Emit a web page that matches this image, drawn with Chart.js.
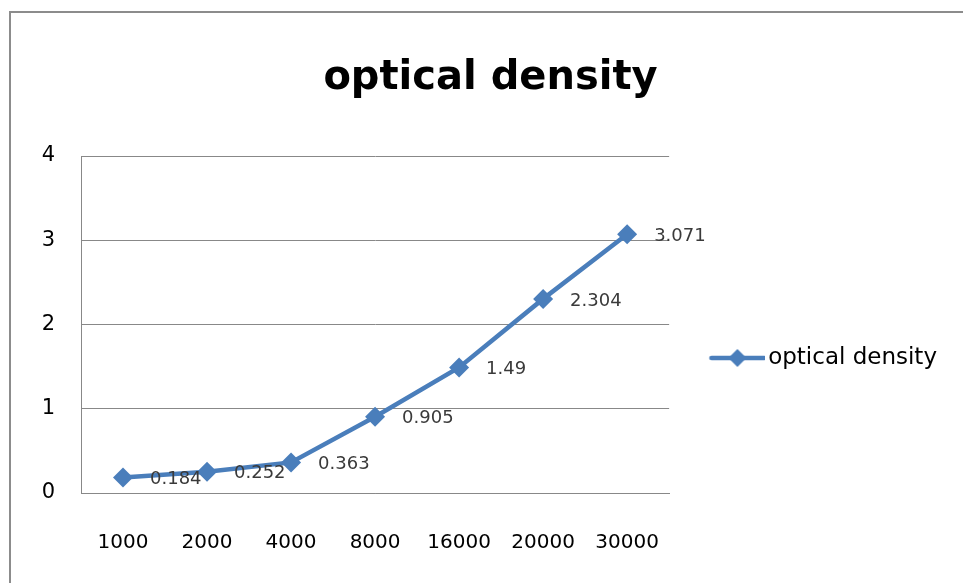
<!DOCTYPE html>
<html>
<head>
<meta charset="utf-8">
<script src="https://cdn.jsdelivr.net/npm/chart.js@4.4.1/dist/chart.umd.min.js"></script>
<style>
  html, body { margin: 0; padding: 0; background: #fff; overflow: hidden; }
  #frame { position: absolute; left: 9px; top: 11px; width: 1000px; height: 700px; border: 2px solid #8c8c8c; }
  #wrap { position: absolute; left: 0; top: 0; width: 963px; height: 583px; }
</style>
</head>
<body>
<div id="frame"></div>
<div id="wrap"><canvas id="odChart" width="963" height="583"></canvas></div>
<script>
// chart values
const categories = ['1000', '2000', '4000', '8000', '16000', '20000', '30000'];
const densityValues = [0.184, 0.252, 0.363, 0.905, 1.49, 2.304, 3.071];
const densityLabels = ['0.184', '0.252', '0.363', '0.905', '1.49', '2.304', '3.071'];
const yTicks = [0, 1, 2, 3, 4];
const seriesName = 'optical density';

const lineColor = '#4a7ebb';
const fontFamily = '"DejaVu Sans", sans-serif';

// legend symbol: line with a diamond on it
function legendSymbol() {
    const c = document.createElement('canvas');
    c.width = 81;
    c.height = 22;
    const ctx = c.getContext('2d');
    ctx.strokeStyle = lineColor;
    ctx.lineWidth = 4.5;
    ctx.lineCap = 'round';
    ctx.beginPath();
    ctx.moveTo(27, 11);
    ctx.lineTo(80, 11);
    ctx.stroke();
    ctx.fillStyle = lineColor;
    ctx.beginPath();
    ctx.moveTo(53, 2);
    ctx.lineTo(62, 11);
    ctx.lineTo(53, 20);
    ctx.lineTo(44, 11);
    ctx.closePath();
    ctx.fill();
    return c;
}
const symbol = legendSymbol();

// value labels next to each point
const valueLabels = {
    id: 'valueLabels',
    afterDatasetsDraw(chart) {
        const ctx = chart.ctx;
        const meta = chart.getDatasetMeta(0);
        ctx.save();
        ctx.font = '18px ' + fontFamily;
        ctx.fillStyle = '#3a3a3a';
        ctx.textAlign = 'left';
        ctx.textBaseline = 'middle';
        meta.data.forEach((pt, i) => {
            ctx.fillText(densityLabels[i], pt.x + 27, pt.y + 2);
        });
        ctx.restore();
    }
};

new Chart(document.getElementById('odChart'), {
    type: 'line',
    data: {
        labels: categories,
        datasets: [{
            label: seriesName,
            data: densityValues,
            borderColor: lineColor,
            backgroundColor: lineColor,
            borderWidth: 4.5,
            pointStyle: 'rectRot',
            pointRadius: 10,
            pointHoverRadius: 10,
            pointBorderWidth: 0,
            tension: 0
        }]
    },
    options: {
        responsive: false,
        animation: false,
        layout: { padding: { left: 34, right: 16, top: 0, bottom: 0 } },
        plugins: {
            title: {
                display: true,
                text: seriesName,
                color: '#000',
                font: { family: fontFamily, size: 40, weight: 'bold' },
                padding: { top: 55, bottom: 53 }
            },
            legend: {
                display: true,
                position: 'right',
                fullSize: false,
                maxWidth: 320,
                // empty title only pushes the entry down a bit
                title: { display: true, text: '', font: { size: 10 }, padding: { top: 55, bottom: 0 } },
                labels: {
                    usePointStyle: true,
                    pointStyleWidth: 63.5,
                    padding: 24,
                    color: '#000',
                    font: { family: fontFamily, size: 23 },
                    generateLabels: () => [{
                        text: seriesName,
                        fontColor: '#000',
                        pointStyle: symbol,
                        fillStyle: lineColor,
                        strokeStyle: lineColor,
                        lineWidth: 0,
                        datasetIndex: 0
                    }]
                }
            },
            tooltip: { enabled: false }
        },
        scales: {
            x: {
                offset: true,
                afterFit: axis => { axis.height = 90; },
                grid: { display: false, drawTicks: false },
                border: { display: true, color: '#888888', width: 1 },
                ticks: {
                    color: '#000',
                    padding: 38,
                    maxRotation: 0,
                    font: { family: fontFamily, size: 20 }
                }
            },
            y: {
                min: yTicks[0],
                max: yTicks[yTicks.length - 1],
                afterBuildTicks: axis => { axis.ticks = yTicks.map(v => ({ value: v })); },
                afterFit: axis => { axis.width = 47; },
                grid: { color: '#888888', lineWidth: 1, drawTicks: false },
                border: { display: true, color: '#888888', width: 1 },
                ticks: {
                    color: '#000',
                    padding: 26,
                    font: { family: fontFamily, size: 21 }
                }
            }
        }
    },
    plugins: [valueLabels]
});
</script>
</body>
</html>
